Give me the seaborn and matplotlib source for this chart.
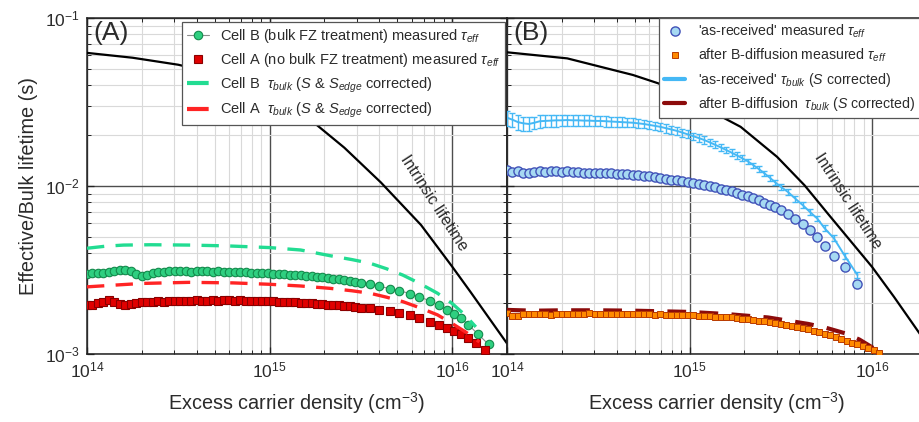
import numpy as np
import matplotlib
matplotlib.use("Agg")
import matplotlib.pyplot as plt
from matplotlib.ticker import NullFormatter
import seaborn as sns

# ---------------- data ----------------
# carrier densities are stored as log10(n / cm^-3), lifetimes in ms

# Panel A: Cell B (bulk FZ treatment) measured tau_eff
cell_b_logn = [14.00, 14.03, 14.06, 14.09, 14.12, 14.15, 14.18, 14.21, 14.24, 14.27,
               14.30, 14.33, 14.36, 14.39, 14.42, 14.45, 14.48, 14.51, 14.54, 14.57,
               14.60, 14.63, 14.66, 14.69, 14.72, 14.75, 14.78, 14.81, 14.84, 14.87,
               14.90, 14.93, 14.96, 14.99, 15.02, 15.05, 15.08, 15.11, 15.14, 15.17,
               15.20, 15.23, 15.26, 15.29, 15.32, 15.35, 15.38, 15.41, 15.44, 15.47,
               15.50, 15.55, 15.60, 15.66, 15.71, 15.77, 15.82, 15.88, 15.93, 15.97,
               16.01, 16.05, 16.09, 16.14, 16.20]
cell_b_eff = [2.98, 3.02, 3.03, 3.05, 3.08, 3.12, 3.15, 3.17, 3.10, 3.00,
              2.93, 2.97, 3.03, 3.06, 3.08, 3.10, 3.11, 3.12, 3.10, 3.08,
              3.10, 3.11, 3.10, 3.09, 3.10, 3.09, 3.08, 3.08, 3.07, 3.06,
              3.05, 3.04, 3.03, 3.02, 3.01, 3.00, 2.99, 2.97, 2.96, 2.94,
              2.92, 2.90, 2.88, 2.86, 2.84, 2.81, 2.78, 2.75, 2.72, 2.69,
              2.66, 2.61, 2.53, 2.45, 2.38, 2.29, 2.19, 2.07, 1.95, 1.83,
              1.74, 1.63, 1.49, 1.32, 1.14]

# Panel A: Cell A (no bulk FZ treatment) measured tau_eff
cell_a_logn = [14.00, 14.03, 14.06, 14.09, 14.12, 14.15, 14.18, 14.21, 14.24, 14.27,
               14.30, 14.33, 14.36, 14.39, 14.42, 14.45, 14.48, 14.51, 14.54, 14.57,
               14.60, 14.63, 14.66, 14.69, 14.72, 14.75, 14.78, 14.81, 14.84, 14.87,
               14.90, 14.93, 14.96, 14.99, 15.02, 15.05, 15.08, 15.11, 15.14, 15.17,
               15.20, 15.23, 15.26, 15.29, 15.32, 15.35, 15.38, 15.41, 15.44, 15.47,
               15.50, 15.55, 15.60, 15.66, 15.71, 15.77, 15.82, 15.88, 15.93, 15.97,
               16.01, 16.05, 16.09, 16.13, 16.18]
cell_a_eff = [1.96, 1.97, 2.00, 2.05, 2.09, 2.04, 1.99, 1.96, 1.98, 2.02,
              2.04, 2.03, 2.05, 2.06, 2.05, 2.07, 2.08, 2.07, 2.08, 2.08,
              2.09, 2.08, 2.08, 2.09, 2.08, 2.09, 2.09, 2.08, 2.09, 2.08,
              2.08, 2.07, 2.07, 2.06, 2.06, 2.05, 2.05, 2.04, 2.03, 2.02,
              2.01, 2.00, 1.99, 1.98, 1.97, 1.96, 1.95, 1.93, 1.92, 1.90,
              1.89, 1.87, 1.84, 1.80, 1.76, 1.70, 1.64, 1.56, 1.49, 1.42,
              1.37, 1.31, 1.24, 1.16, 1.06]

# Panel A: bulk lifetimes (S & S_edge corrected)
cell_b_bulk_logn = [14.00, 14.10, 14.20, 14.35, 14.56, 14.77, 15.00, 15.17, 15.33,
                    15.45, 15.55, 15.64, 15.73, 15.82, 15.92, 16.00, 16.07, 16.13]
cell_b_bulk = [4.26, 4.38, 4.45, 4.47, 4.45, 4.40, 4.30, 4.16, 3.85,
               3.65, 3.47, 3.22, 2.95, 2.64, 2.30, 2.00, 1.71, 1.45]
cell_a_bulk_logn = [14.00, 14.15, 14.30, 14.56, 14.80, 15.00, 15.17, 15.33, 15.45,
                    15.55, 15.64, 15.73, 15.82, 15.92, 16.00, 16.08, 16.15]
cell_a_bulk = [2.51, 2.57, 2.63, 2.67, 2.65, 2.60, 2.54, 2.46, 2.38,
               2.30, 2.18, 2.05, 1.89, 1.71, 1.52, 1.34, 1.18]

# Panel A: intrinsic lifetime
intr_a_logn = [14.00, 14.25, 14.50, 14.75, 15.00, 15.10, 15.25, 15.41, 15.61,
               15.83, 16.00, 16.10, 16.30]
intr_a = [62.0, 58.0, 52.7, 45.5, 36.0, 30.5, 23.5, 16.9, 10.5,
          5.86, 3.32, 2.35, 1.16]

# Panel B: 'as-received' wafer, measured tau_eff and tau_bulk (S corrected)
asrec_logn = [14.00, 14.03, 14.06, 14.09, 14.12, 14.15, 14.18, 14.21, 14.24, 14.27,
              14.30, 14.33, 14.36, 14.39, 14.42, 14.45, 14.48, 14.51, 14.54, 14.57,
              14.60, 14.63, 14.66, 14.69, 14.72, 14.75, 14.78, 14.81, 14.84, 14.87,
              14.90, 14.93, 14.96, 14.99, 15.02, 15.05, 15.08, 15.11, 15.14, 15.17,
              15.20, 15.23, 15.26, 15.29, 15.32, 15.35, 15.38, 15.41, 15.44, 15.47,
              15.50, 15.54, 15.58, 15.62, 15.66, 15.70, 15.74, 15.79, 15.85, 15.92]
asrec_eff = [12.4, 12.1, 12.3, 12.0, 11.9, 12.1, 12.2, 12.1, 12.2, 12.2,
             12.1, 12.2, 12.1, 12.1, 12.0, 12.0, 12.0, 11.95, 11.9, 11.9,
             11.85, 11.8, 11.75, 11.7, 11.6, 11.5, 11.4, 11.3, 11.2, 11.05,
             10.9, 10.8, 10.7, 10.6, 10.45, 10.3, 10.15, 10.0, 9.8, 9.6,
             9.45, 9.3, 9.1, 8.9, 8.7, 8.45, 8.2, 7.95, 7.7, 7.45,
             7.2, 6.85, 6.4, 5.95, 5.45, 4.95, 4.4, 3.85, 3.28, 2.61]
asrec_bulk = [25.5, 24.8, 24.0, 23.6, 23.4, 23.8, 24.3, 24.4, 24.5, 24.6,
              24.6, 24.7, 24.6, 24.6, 24.5, 24.5, 24.4, 24.4, 24.3, 24.2,
              24.1, 24.0, 23.9, 23.8, 23.6, 23.4, 23.1, 22.8, 22.5, 22.1,
              21.7, 21.3, 20.8, 20.3, 19.8, 19.3, 18.8, 18.2, 17.6, 17.0,
              16.4, 15.8, 15.2, 14.6, 14.0, 13.3, 12.6, 11.9, 11.2, 10.5,
              9.9, 9.2, 8.4, 7.7, 7.0, 6.4, 5.6, 4.9, 3.85, 2.95]
asrec_bulk_err = [2.6, 2.5, 2.4, 2.3, 2.2, 2.1, 2.1, 2.0, 2.0, 2.0,
                  1.9, 1.9, 1.9, 1.8, 1.8, 1.8, 1.7, 1.7, 1.7, 1.6,
                  1.6, 1.6, 1.5, 1.5, 1.5, 1.4, 1.4, 1.3, 1.3, 1.3,
                  1.2, 1.2, 1.1, 1.1, 1.0, 1.0, 0.95, 0.9, 0.85, 0.8,
                  0.75, 0.7, 0.65, 0.6, 0.55, 0.5, 0.48, 0.45, 0.42, 0.4,
                  0.38, 0.35, 0.32, 0.3, 0.28, 0.25, 0.22, 0.2, 0.16, 0.12]

# Panel B: after B-diffusion, measured tau_eff
bdiff_logn = [14.00, 14.03, 14.06, 14.09, 14.12, 14.15, 14.18, 14.21, 14.24, 14.27,
              14.30, 14.33, 14.36, 14.39, 14.42, 14.45, 14.48, 14.51, 14.54, 14.57,
              14.60, 14.63, 14.66, 14.69, 14.72, 14.75, 14.78, 14.81, 14.84, 14.87,
              14.90, 14.93, 14.96, 14.99, 15.02, 15.05, 15.08, 15.11, 15.14, 15.17,
              15.20, 15.23, 15.26, 15.29, 15.32, 15.35, 15.38, 15.41, 15.44, 15.47,
              15.50, 15.53, 15.56, 15.59, 15.62, 15.65, 15.68, 15.71, 15.74, 15.77,
              15.80, 15.83, 15.86, 15.89, 15.92, 15.95, 15.98, 16.01, 16.04]
bdiff_eff = [1.76, 1.69, 1.68, 1.72, 1.73, 1.74, 1.73, 1.72, 1.71, 1.72,
             1.73, 1.74, 1.74, 1.73, 1.74, 1.75, 1.74, 1.74, 1.73, 1.73,
             1.74, 1.73, 1.73, 1.72, 1.73, 1.72, 1.72, 1.71, 1.72, 1.71,
             1.71, 1.71, 1.70, 1.70, 1.70, 1.69, 1.69, 1.68, 1.67, 1.66,
             1.66, 1.65, 1.64, 1.62, 1.61, 1.60, 1.58, 1.57, 1.55, 1.53,
             1.51, 1.49, 1.47, 1.45, 1.43, 1.41, 1.38, 1.35, 1.32, 1.29,
             1.26, 1.23, 1.20, 1.17, 1.14, 1.11, 1.08, 1.05, 1.01]

# Panel B: after B-diffusion, tau_bulk (S corrected)
bdiff_bulk_logn = [14.00, 14.15, 14.30, 14.50, 14.70, 15.00, 15.20, 15.43, 15.65,
                   15.75, 15.85, 15.93, 16.01, 16.06]
bdiff_bulk = [1.83, 1.81, 1.82, 1.82, 1.81, 1.78, 1.73, 1.65, 1.51,
              1.43, 1.33, 1.22, 1.08, 1.00]

# Panel B: intrinsic lifetime
intr_b_logn = [14.00, 14.33, 14.69, 14.83, 15.28, 15.48, 15.63, 15.76, 16.00,
               16.12, 16.30]
intr_b = [62.5, 57.5, 45.8, 40.8, 22.5, 14.9, 10.1, 6.8, 3.3, 2.19, 1.15]

# ---------------- styling ----------------
sns.set_theme(style="ticks")
plt.rcParams["font.family"] = ["Liberation Sans", "DejaVu Sans"]
plt.rcParams["mathtext.fontset"] = "custom"
plt.rcParams["mathtext.rm"] = "Liberation Sans"
plt.rcParams["mathtext.it"] = "Liberation Sans:italic"
plt.rcParams["mathtext.bf"] = "Liberation Sans:bold"
plt.rcParams["text.color"] = "#2b2b2b"
plt.rcParams["axes.labelcolor"] = "#2b2b2b"

C_GREEN = "#2fcf80"
C_GREEN_EDGE = "#138a4c"
C_GREEN_DASH = "#22dc92"
C_RED = "#e00000"
C_RED_EDGE = "#8a0000"
C_RED_DASH = "#ff2424"
C_BLUE_FACE = "#a6d9f2"
C_BLUE_EDGE = "#4152b8"
C_ORANGE = "#ff8a00"
C_ORANGE_EDGE = "#b83a00"
C_LIGHTBLUE = "#45b8f5"
C_DARKRED = "#8c0b0b"


def n(logn):
    return np.power(10.0, np.asarray(logn, dtype=float))


def s(ms):
    return np.asarray(ms, dtype=float) * 1e-3


W, H = 920, 422
fig = plt.figure(figsize=(W / 100, H / 100), dpi=100)
axA = fig.add_axes([87 / W, 68 / H, 420 / W, 336 / H])
axB = fig.add_axes([507 / W, 68 / H, 420 / W, 336 / H])


def style_axes(ax):
    ax.set_xscale("log")
    ax.set_yscale("log")
    ax.set_xlim(1e14, 2e16)
    ax.set_ylim(1e-3, 1e-1)
    ax.set_axisbelow(True)
    ax.grid(which="minor", color="#d9d9d9", lw=0.8)
    ax.grid(which="major", color="#4d4d4d", lw=1.0)
    ax.xaxis.set_minor_formatter(NullFormatter())
    ax.yaxis.set_minor_formatter(NullFormatter())
    ax.tick_params(which="both", direction="in", top=True, right=True,
                   color="#222222", labelcolor="#2b2b2b", labelsize=12.5)
    ax.tick_params(which="major", length=5, width=0.9, pad=5)
    ax.tick_params(which="minor", length=3, width=0.7)
    for sp in ax.spines.values():
        sp.set_color("#222222")
        sp.set_linewidth(1.1)
    ax.set_xlabel("Excess carrier density (cm$^{-3}$)", fontsize=14.3, labelpad=7)


def draw_line(ax, logn, ms, **kw):
    sns.lineplot(x=n(logn), y=s(ms), ax=ax, estimator=None, sort=False, **kw)


# ---------------- panel A ----------------
draw_line(axA, intr_a_logn, intr_a, color="black", lw=1.6, zorder=3)
draw_line(axA, cell_b_logn, cell_b_eff, color="#8c8c8c", lw=0.8, marker="o",
          markersize=6.1, markerfacecolor=C_GREEN, markeredgecolor=C_GREEN_EDGE,
          markeredgewidth=0.8, zorder=4,
          label=r"Cell B (bulk FZ treatment) measured $\tau_{eff}$")
draw_line(axA, cell_a_logn, cell_a_eff, color=C_RED, linestyle="none", marker="s",
          markersize=5.6, markerfacecolor=C_RED, markeredgecolor=C_RED_EDGE,
          markeredgewidth=0.8, zorder=4,
          label=r"Cell A (no bulk FZ treatment) measured $\tau_{eff}$")
draw_line(axA, cell_b_bulk_logn, cell_b_bulk, color=C_GREEN_DASH, lw=2.4,
          dashes=(5.2, 3.4), zorder=5,
          label=r"Cell B  $\tau_{bulk}$ ($S$ & $S_{edge}$ corrected)")
draw_line(axA, cell_a_bulk_logn, cell_a_bulk, color=C_RED_DASH, lw=2.4,
          dashes=(5.2, 3.4), zorder=5,
          label=r"Cell A  $\tau_{bulk}$ ($S$ & $S_{edge}$ corrected)")

style_axes(axA)
axA.set_ylabel("Effective/Bulk lifetime (s)", fontsize=14.3, labelpad=5)
axA.text(0.014, 0.99, "(A)", transform=axA.transAxes, fontsize=19,
         ha="left", va="top")
axA.text(10 ** 15.90, 10 ** -2.10, "Intrinsic lifetime", rotation=-57,
         ha="center", va="center", fontsize=11.5, zorder=6)

legA = axA.legend(loc="upper right", bbox_to_anchor=(0.996, 0.988),
                  borderaxespad=0, fontsize=10.5, frameon=True, fancybox=False,
                  edgecolor="#555555", framealpha=1, handlelength=1.5,
                  handletextpad=0.7, labelspacing=0.42, borderpad=0.35)
legA.get_frame().set_linewidth(0.9)

# ---------------- panel B ----------------
draw_line(axB, intr_b_logn, intr_b, color="black", lw=1.6, zorder=3)
draw_line(axB, asrec_logn, asrec_eff, color=C_BLUE_EDGE, linestyle="none",
          marker="o", markersize=6.6, markerfacecolor=C_BLUE_FACE,
          markeredgecolor=C_BLUE_EDGE, markeredgewidth=1.0, zorder=4,
          label=r"'as-received' measured $\tau_{eff}$")
draw_line(axB, bdiff_bulk_logn, bdiff_bulk, color=C_DARKRED, lw=3.0,
          dashes=(4.5, 3.2), zorder=4)
draw_line(axB, bdiff_logn, bdiff_eff, color=C_ORANGE, linestyle="none",
          marker="s", markersize=5.0, markerfacecolor=C_ORANGE,
          markeredgecolor=C_ORANGE_EDGE, markeredgewidth=0.7, zorder=5,
          label=r"after B-diffusion measured $\tau_{eff}$")
axB.errorbar(n(asrec_logn), s(asrec_bulk), yerr=s(asrec_bulk_err), fmt="none",
             ecolor=C_LIGHTBLUE, elinewidth=1.0, capsize=2.2, capthick=1.0,
             zorder=5)
draw_line(axB, asrec_logn, asrec_bulk, color=C_LIGHTBLUE, lw=1.4, zorder=5,
          label=r"'as-received' $\tau_{bulk}$ ($S$ corrected)")
# legend proxy for the dashed B-diffusion bulk curve
axB.plot([], [], color=C_DARKRED, lw=3.0,
         label=r"after B-diffusion  $\tau_{bulk}$ ($S$ corrected)")

style_axes(axB)
axB.tick_params(axis="y", which="both", labelleft=False)
axB.set_ylabel("")
axB.text(0.014, 0.99, "(B)", transform=axB.transAxes, fontsize=19,
         ha="left", va="top")
axB.text(10 ** 15.87, 10 ** -2.09, "Intrinsic lifetime", rotation=-57,
         ha="center", va="center", fontsize=11.5, zorder=6)

legB = axB.legend(loc="upper left", bbox_to_anchor=(0.362, 1.0),
                  borderaxespad=0, fontsize=10.2, frameon=True, fancybox=False,
                  edgecolor="#555555", framealpha=1, handlelength=1.5,
                  handletextpad=0.9, labelspacing=0.45, borderpad=0.35)
legB.get_frame().set_linewidth(0.9)
for h in legB.legend_handles[2:]:
    h.set_linewidth(3.0)
for h in legA.legend_handles[2:]:
    h.set_linewidth(3.0)

fig.savefig("out.png", dpi=100)
